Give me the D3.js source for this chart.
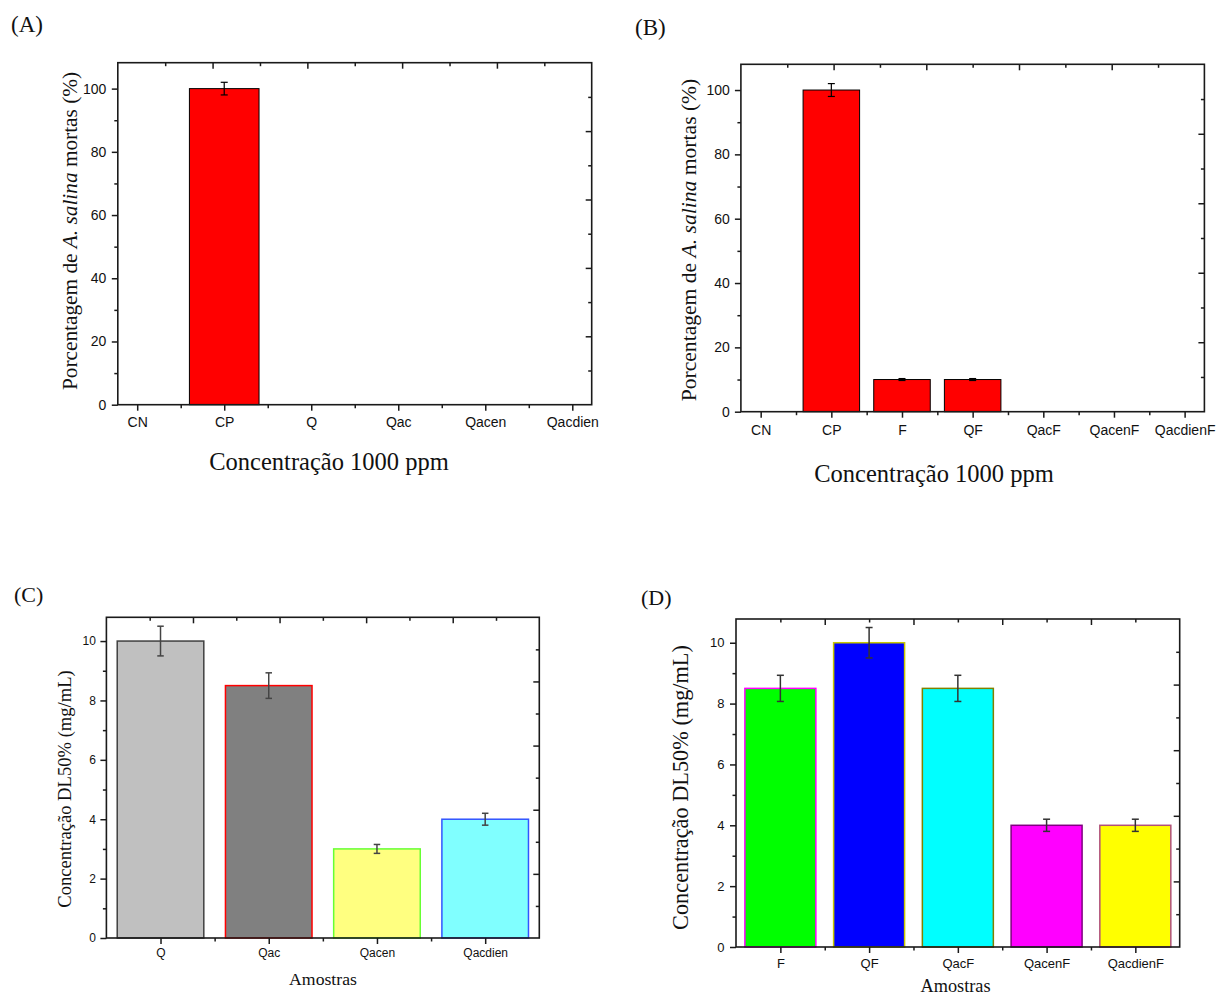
<!DOCTYPE html>
<html>
<head>
<meta charset="utf-8">
<script src="https://cdn.jsdelivr.net/npm/d3@7"></script>
<style>
  html, body { margin: 0; padding: 0; background: #fff; }
  svg { display: block; }
  .tick text { font-family: "Liberation Sans", Arial, sans-serif; fill: #111; }
</style>
</head>
<body>
<svg id="chart" width="1216" height="997"></svg>
<script>
// ---------------- DATA ----------------
const catsA = ["CN", "CP", "Q", "Qac", "Qacen", "Qacdien"];
const valsA = [0, 100, 0, 0, 0, 0];
const errA  = [0, 2, 0, 0, 0, 0];

const catsB = ["CN", "CP", "F", "QF", "QacF", "QacenF", "QacdienF"];
const valsB = [0, 100, 10, 10, 0, 0, 0];
const errB  = [0, 2, 0.3, 0.3, 0, 0, 0];

const catsC = ["Q", "Qac", "Qacen", "Qacdien"];
const valsC = [10, 8.5, 3, 4];
const errC  = [0.5, 0.43, 0.15, 0.2];

const catsD = ["F", "QF", "QacF", "QacenF", "QacdienF"];
const valsD = [8.5, 10, 8.5, 4, 4];
const errD  = [0.43, 0.5, 0.43, 0.2, 0.2];

const yTicksAB = [0, 20, 40, 60, 80, 100];
const yMinorAB = [10, 30, 50, 70, 90];
const yTicksCD = [0, 2, 4, 6, 8, 10];
const yMinorCD = [1, 3, 5, 7, 9];

const fillsC   = ["#c0c0c0", "#808080", "#ffff80", "#80ffff"];
const strokesC = ["#404040", "#ff0000", "#66ff33", "#3355ff"];
const fillsD   = ["#00ff00", "#0000ff", "#00ffff", "#ff00ff", "#ffff00"];
const strokesD = ["#ff00ff", "#c8c800", "#808000", "#800080", "#b0507a"];

// ---------------- DRAW ----------------
const svg = d3.select("#chart");
const SERIF = '"Liberation Serif", "Times New Roman", serif';
const frameFrac = d3.range(1, 10).map(d => d / 10);

function panel(cfg) {
  const g = svg.append("g");
  const n = cfg.cats.length;
  const idx = d3.range(1, n + 1);
  const x = d3.scaleLinear().domain([1 - cfg.xpad, n + cfg.xpad]).range([cfg.l, cfg.r]);
  const y = d3.scaleLinear().domain([0, cfg.ymax]).range([cfg.b, cfg.t]);
  const bw = (x(2) - x(1)) * 0.8;
  const rows = cfg.vals.map((v, i) => ({ v, i, e: cfg.errs[i] }));

  // bars
  g.append("g").selectAll("rect").data(rows.filter(d => d.v > 0)).join("rect")
    .attr("x", d => x(d.i + 1) - bw / 2)
    .attr("y", d => y(d.v))
    .attr("width", bw)
    .attr("height", d => y(0) - y(d.v))
    .attr("fill", d => cfg.fills[d.i])
    .attr("stroke", d => cfg.strokes[d.i])
    .attr("stroke-width", cfg.barStroke);

  // error bars
  const eg = g.append("g").attr("stroke", cfg.errColor).attr("stroke-width", cfg.errWidth);
  rows.filter(d => d.e > 0).forEach(d => {
    const cx = x(d.i + 1);
    eg.append("line").attr("x1", cx).attr("x2", cx).attr("y1", y(d.v - d.e)).attr("y2", y(d.v + d.e));
    [d.v - d.e, d.v + d.e].forEach(t => {
      eg.append("line").attr("x1", cx - cfg.cap / 2).attr("x2", cx + cfg.cap / 2)
        .attr("y1", y(t)).attr("y2", y(t));
    });
  });

  const axColor = "#1a1a1a";
  function styleAxis(sel) {
    sel.select(".domain").remove();
    sel.selectAll(".tick line").attr("stroke", axColor).attr("stroke-width", 1.5);
    sel.selectAll(".tick text").attr("font-size", cfg.tickFont + "px");
  }

  // bottom axis (major at categories, minor between)
  g.append("g").attr("transform", `translate(0,${cfg.b})`)
    .call(d3.axisBottom(x).tickValues(idx).tickFormat(i => cfg.cats[i - 1])
      .tickSize(6).tickPadding(cfg.xPad))
    .call(styleAxis);
  g.append("g").attr("transform", `translate(0,${cfg.b})`)
    .call(d3.axisBottom(x).tickValues(idx.slice(0, -1).map(i => i + 0.5)).tickFormat("").tickSize(3.5))
    .call(styleAxis);

  // left axis
  g.append("g").attr("transform", `translate(${cfg.l},0)`)
    .call(d3.axisLeft(y).tickValues(cfg.yTicks).tickSize(6).tickPadding(cfg.yPad))
    .call(styleAxis);
  g.append("g").attr("transform", `translate(${cfg.l},0)`)
    .call(d3.axisLeft(y).tickValues(cfg.yMinor).tickFormat("").tickSize(3.5))
    .call(styleAxis);

  // top & right frame axes (independent 0..1 scales, ticks inward)
  const xt = d3.scaleLinear().domain([0, 1]).range([cfg.l, cfg.r]);
  const yr = d3.scaleLinear().domain([0, 1]).range([cfg.b, cfg.t]);
  const major = frameFrac.filter((d, i) => i % 2 === 1);
  const minor = frameFrac.filter((d, i) => i % 2 === 0);
  g.append("g").attr("transform", `translate(0,${cfg.t})`)
    .call(d3.axisTop(xt).tickValues(major).tickFormat("").tickSize(-6)).call(styleAxis);
  g.append("g").attr("transform", `translate(0,${cfg.t})`)
    .call(d3.axisTop(xt).tickValues(minor).tickFormat("").tickSize(-3.5)).call(styleAxis);
  g.append("g").attr("transform", `translate(${cfg.r},0)`)
    .call(d3.axisRight(yr).tickValues(major).tickFormat("").tickSize(-6)).call(styleAxis);
  g.append("g").attr("transform", `translate(${cfg.r},0)`)
    .call(d3.axisRight(yr).tickValues(minor).tickFormat("").tickSize(-3.5)).call(styleAxis);

  // frame
  g.append("rect").attr("x", cfg.l).attr("y", cfg.t)
    .attr("width", cfg.r - cfg.l).attr("height", cfg.b - cfg.t)
    .attr("fill", "none").attr("stroke", axColor).attr("stroke-width", 1.6);

  // panel title
  g.append("text").attr("x", cfg.titleX).attr("y", cfg.titleY)
    .attr("font-family", SERIF).attr("font-size", cfg.titleFont + "px").attr("fill", "#111")
    .text(cfg.title);

  // x label
  g.append("text").attr("x", cfg.xlabX).attr("y", cfg.xlabY).attr("text-anchor", "middle")
    .attr("font-family", SERIF).attr("font-size", cfg.xlabFont + "px").attr("fill", "#111")
    .text(cfg.xlab);

  // y label
  const yl = g.append("text")
    .attr("transform", `translate(${cfg.ylabX},${cfg.ylabY}) rotate(-90)`)
    .attr("text-anchor", "middle")
    .attr("font-family", SERIF).attr("font-size", cfg.ylabFont + "px").attr("fill", "#111");
  cfg.ylab.forEach(part => {
    yl.append("tspan").attr("font-style", part.italic ? "italic" : "normal").text(part.t);
  });
}

const ylabAB = [{ t: "Porcentagem de " }, { t: "A. salina", italic: true }, { t: " mortas (%)" }];
const ylabCD = [{ t: "Concentração DL50% (mg/mL)" }];

panel({
  cats: catsA, vals: valsA, errs: errA,
  fills: catsA.map(() => "#ff0000"), strokes: catsA.map(() => "#000"), barStroke: 1,
  errColor: "#000", errWidth: 1.2, cap: 7,
  l: 117.8, r: 591.7, t: 62.7, b: 404.7, xpad: 0.223, ymax: 108.2,
  yTicks: yTicksAB, yMinor: yMinorAB, tickFont: 14, xPad: 6.5, yPad: 5.5,
  title: "(A)", titleX: 11, titleY: 32, titleFont: 23,
  xlab: "Concentração 1000 ppm", xlabX: 329, xlabY: 470, xlabFont: 24.5,
  ylab: ylabAB, ylabX: 76.5, ylabY: 231, ylabFont: 21.3
});

panel({
  cats: catsB, vals: valsB, errs: errB,
  fills: catsB.map(() => "#ff0000"), strokes: catsB.map(() => "#000"), barStroke: 1,
  errColor: "#000", errWidth: 1.2, cap: 7,
  l: 740.9, r: 1204.4, t: 64.3, b: 411.7, xpad: 0.28, ymax: 108,
  yTicks: yTicksAB, yMinor: yMinorAB, tickFont: 14, xPad: 7.3, yPad: 5,
  title: "(B)", titleX: 635, titleY: 35, titleFont: 23,
  xlab: "Concentração 1000 ppm", xlabX: 934, xlabY: 481.5, xlabFont: 24.5,
  ylab: ylabAB, ylabX: 696, ylabY: 240, ylabFont: 21.6
});

panel({
  cats: catsC, vals: valsC, errs: errC,
  fills: fillsC, strokes: strokesC, barStroke: 1.5,
  errColor: "#444", errWidth: 1.5, cap: 6.5,
  l: 106.4, r: 539.3, t: 617.3, b: 938, xpad: 0.5, ymax: 10.8,
  yTicks: yTicksCD, yMinor: yMinorCD, tickFont: 12, xPad: 4.5, yPad: 4.5,
  title: "(C)", titleX: 14, titleY: 602, titleFont: 22,
  xlab: "Amostras", xlabX: 323, xlabY: 985, xlabFont: 17.7,
  ylab: ylabCD, ylabX: 71.4, ylabY: 789, ylabFont: 18.6
});

panel({
  cats: catsD, vals: valsD, errs: errD,
  fills: fillsD, strokes: strokesD, barStroke: 1.5,
  errColor: "#333", errWidth: 1.5, cap: 7,
  l: 736, r: 1179.7, t: 619, b: 947, xpad: 0.5, ymax: 10.78,
  yTicks: yTicksCD, yMinor: yMinorCD, tickFont: 13, xPad: 5.3, yPad: 5.5,
  title: "(D)", titleX: 641, titleY: 605, titleFont: 22,
  xlab: "Amostras", xlabX: 955.5, xlabY: 992, xlabFont: 18.3,
  ylab: ylabCD, ylabX: 688, ylabY: 787.5, ylabFont: 22.3
});
</script>
</body>
</html>
